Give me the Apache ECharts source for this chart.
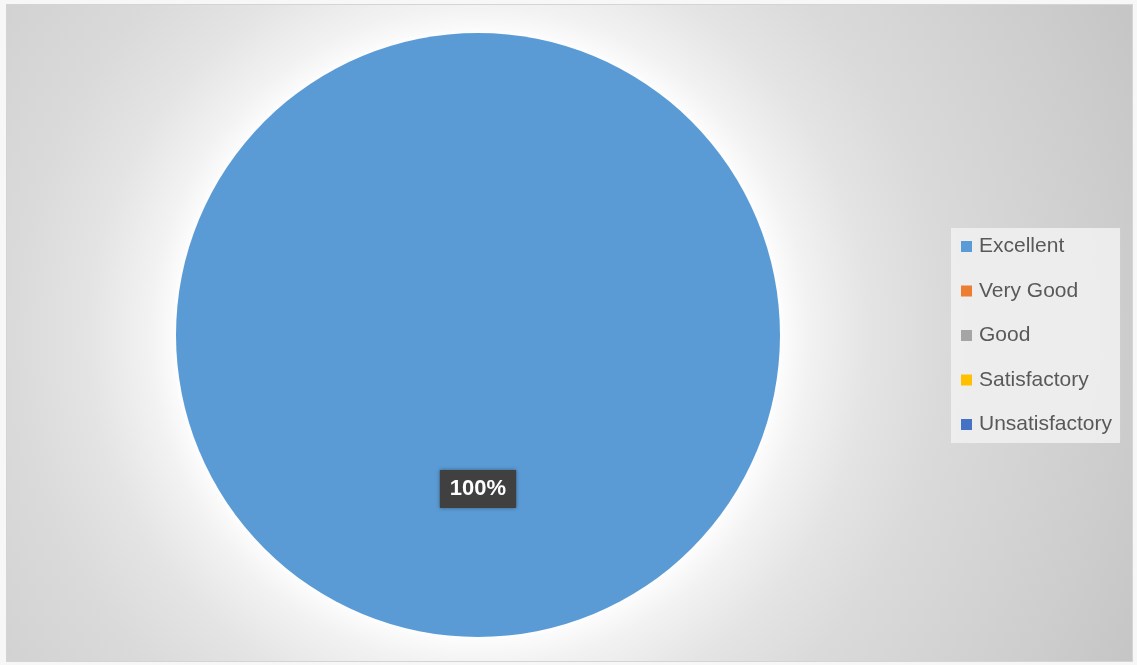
<!DOCTYPE html>
<html>
<head>
<meta charset="utf-8">
<script src="https://cdn.jsdelivr.net/npm/echarts@6/dist/echarts.min.js"></script>
<style>
html,body{margin:0;padding:0;background:#fafafa;}
#wrap{position:absolute;left:0;top:0;width:1137px;height:665px;background:#f7f7f7;}
#chart{position:absolute;left:6px;top:4px;width:1125px;height:656px;border:1px solid #d4d4d4;
  background:radial-gradient(circle 720px at 472px 331px, #ffffff 0px, #ffffff 295px, #f2f2f2 330px, #e4e4e4 390px, #dadada 465px, #cdcdcd 640px, #c6c6c6 720px);}
</style>
</head>
<body>
<div id="wrap"><div id="chart"></div></div>
<script>
const categories = ['Excellent', 'Very Good', 'Good', 'Satisfactory', 'Unsatisfactory'];
const values = [100, 0, 0, 0, 0];
const colors = ['#5B9BD5', '#ED7D31', '#A5A5A5', '#FFC000', '#4472C4'];

const chart = echarts.init(document.getElementById('chart'));
const data = categories.map((name, i) => ({
  name: name,
  value: values[i],
  itemStyle: { color: colors[i] },
  label: { show: values[i] > 0 }
}));

chart.setOption({
  backgroundColor: 'transparent',
  animation: false,
  legend: {
    orient: 'vertical',
    left: 944,
    top: 223,
    icon: 'rect',
    itemWidth: 11,
    itemHeight: 11,
    itemGap: 23.5,
    padding: [8, 8, 8, 10],
    backgroundColor: 'rgba(240,240,240,0.9)',
    itemStyle: { borderWidth: 0, shadowBlur: 0 },
    textStyle: { color: '#595959', fontSize: 21, lineHeight: 21, fontFamily: 'Liberation Sans', padding: [0, 0, 0, 2] },
    data: categories
  },
  series: [{
    type: 'pie',
    center: [471, 330],
    radius: 302,
    startAngle: 90,
    clockwise: true,
    avoidLabelOverlap: false,
    itemStyle: {
      borderWidth: 0,
      shadowBlur: 10,
      shadowColor: 'rgba(255,255,255,0.9)'
    },
    label: {
      position: 'inside',
      formatter: '{d}%',
      color: '#ffffff',
      fontWeight: 'bold',
      fontSize: 22,
      lineHeight: 22,
      fontFamily: 'Liberation Sans',
      backgroundColor: '#404040',
      padding: [8, 10, 8, 10],
      shadowBlur: 4,
      shadowColor: 'rgba(0,0,0,0.4)'
    },
    labelLine: { show: false },
    emphasis: { scale: false },
    data: data
  }]
});
</script>
</body>
</html>
